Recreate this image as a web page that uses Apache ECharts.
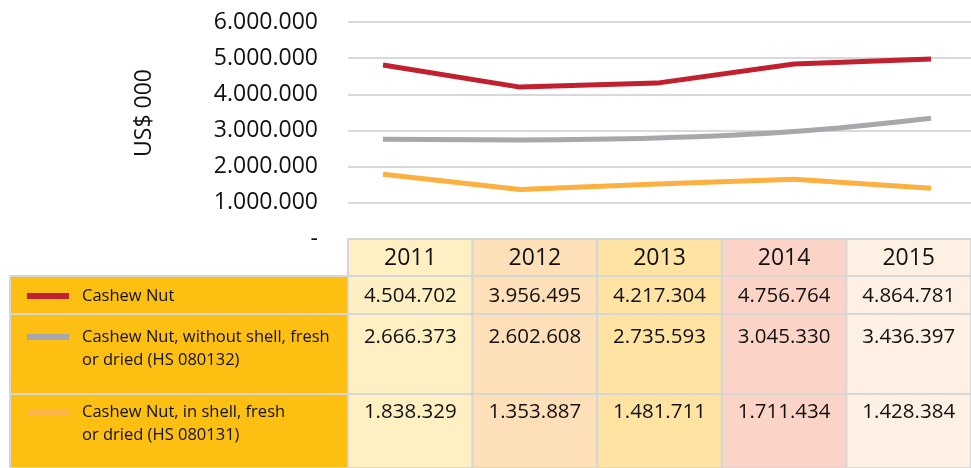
<!DOCTYPE html>
<html>
<head>
<meta charset="utf-8">
<script src="https://cdn.jsdelivr.net/npm/echarts@6/dist/echarts.min.js"></script>
<style>
html,body{margin:0;padding:0;background:#fff;}
#c{width:971px;height:468px;}
</style>
</head>
<body>
<div id="c"></div>
<script>
// ---- data ----
const years = ['2011', '2012', '2013', '2014', '2015'];
const seriesNames = ['Cashew Nut', 'Cashew Nut, without shell, fresh\nor dried (HS 080132)', 'Cashew Nut, in shell, fresh\nor dried (HS 080131)'];
// table values (as printed)
const tableCashew = [4504702, 3956495, 4217304, 4756764, 4864781];
const tableWithout = [2666373, 2602608, 2735593, 3045330, 3436397];
const tableInShell = [1838329, 1353887, 1481711, 1711434, 1428384];
// line values (as drawn in the plot)
const lineCashew = [4810000, 4200000, 4310000, 4840000, 4980000];
const lineWithout = [2760000, 2740000, 2790000, 2970000, 3340000];
const lineInShell = [1790000, 1370000, 1520000, 1650000, 1400000];
const yName = 'US$ 000';

// ---- styles / layout ----
const FONT = '"Open Sans", sans-serif';
const colors = ['#C1202F', '#A7A8AC', '#FBB040'];
const swatchColors = ['#C1202F', '#A7A8AC', '#FDB448'];
const colFill = ['#FEF0C3', '#FDDFB8', '#FEE3A2', '#FBD4C7', '#FEF0E2'];
const borderColor = '#D6D6D6';
const rowTop = [0, 37, 75, 155];
const rowH = [37, 38, 80, 74];
const textOff = [19, 20, 23, 18];

function fmt(v) {
  if (v === 0) return '-';
  return String(Math.round(v)).replace(/\B(?=(\d{3})+(?!\d))/g, '.');
}

const tables = [tableCashew, tableWithout, tableInShell];
const cellData = [];
for (let c = 0; c < years.length; c++) {
  for (let r = 0; r < 4; r++) cellData.push([c, r]);
}
function cellText(c, r) {
  if (r === 0) return years[c];
  return fmt(tables[r - 1][c]);
}

const lines = [lineCashew, lineWithout, lineInShell];

const chart = echarts.init(document.getElementById('c'));

// legend block (left of table)
const legendGraphics = [];
const blockLeft = 10, blockRight = 348, tableTop = 239;
for (let r = 1; r < 4; r++) {
  const top = tableTop + rowTop[r];
  legendGraphics.push({
    type: 'rect', shape: {x: blockLeft, y: top, width: blockRight - blockLeft, height: rowH[r]},
    style: {fill: '#FDC012', stroke: borderColor, lineWidth: 2}, z: 1
  });
  const ty = top + textOff[r];
  legendGraphics.push({
    type: 'line', shape: {x1: 27, y1: ty, x2: 69, y2: ty},
    style: {stroke: swatchColors[r - 1], lineWidth: 6}, z: 2
  });
  legendGraphics.push({
    type: 'text', x: 82, y: ty - 11.5,
    style: {text: seriesNames[r - 1], font: '16.5px ' + FONT, fill: '#111', lineHeight: 23, verticalAlign: 'top', align: 'left'},
    z: 2
  });
}
legendGraphics.push({
  type: 'text', x: 144, y: 113, rotation: Math.PI / 2,
  style: {text: yName, font: '23px ' + FONT, fill: '#111', align: 'center', verticalAlign: 'middle'}, z: 3
});

chart.setOption({
  animation: false,
  backgroundColor: '#fff',
  grid: [
    {left: 348, right: 0, top: 22, height: 217},
    {left: 348, right: 0, top: 239, bottom: 0}
  ],
  xAxis: [
    {gridIndex: 0, type: 'value', min: -0.2555, max: 4.292, show: false},
    {gridIndex: 1, type: 'category', data: years, show: false, boundaryGap: true}
  ],
  yAxis: [
    {
      gridIndex: 0, type: 'value', min: 0, max: 6000000, interval: 1000000,
      axisLine: {show: false}, axisTick: {show: false},
      splitLine: {show: true, lineStyle: {color: '#D9D9D9', width: 2}},
      axisLabel: {
        margin: 30, fontSize: 23, fontFamily: FONT, color: '#111',
        formatter: function (v) { return fmt(v); }
      }
    },
    {gridIndex: 1, type: 'value', min: 0, max: 1, show: false}
  ],
  graphic: legendGraphics,
  series: [
    ...lines.map(function (arr, i) {
      return {
        type: 'line', name: seriesNames[i], xAxisIndex: 0, yAxisIndex: 0,
        data: arr.map(function (v, k) { return [k, v]; }),
        smooth: i === 1 ? 0.4 : false,
        symbol: 'none',
        lineStyle: {color: colors[i], width: 5, cap: 'butt'},
        z: 5
      };
    }),
    {
      type: 'custom', xAxisIndex: 1, yAxisIndex: 1,
      data: cellData,
      renderItem: function (params, api) {
        const c = api.value(0), r = api.value(1);
        const cx = api.coord([c, 0])[0];
        const bw = api.size([1, 0])[0];
        const top = params.coordSys.y + rowTop[r];
        return {
          type: 'group',
          children: [
            {type: 'rect', shape: {x: cx - bw / 2, y: top, width: bw, height: rowH[r]},
              style: {fill: colFill[c], stroke: borderColor, lineWidth: 2}},
            {type: 'text', style: {
              text: cellText(c, r), x: cx, y: top + textOff[r],
              align: 'center', verticalAlign: 'middle',
              font: (r === 0 ? '23px ' : '20.5px ') + FONT, fill: '#111'
            }}
          ]
        };
      },
      z: 2
    }
  ]
});
</script>
</body>
</html>
